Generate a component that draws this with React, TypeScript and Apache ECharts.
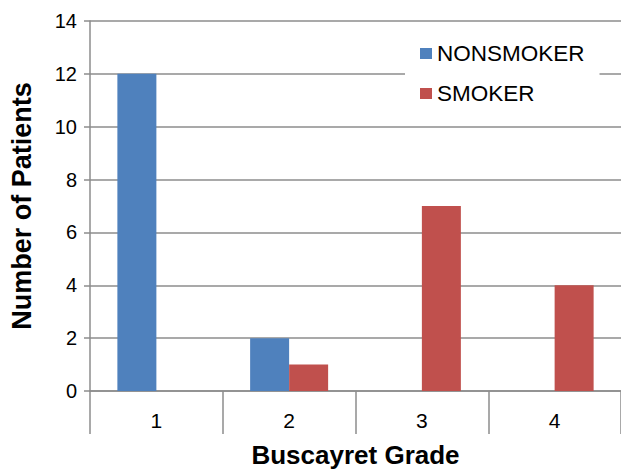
import React, { useEffect, useRef } from "react";
import * as echarts from "echarts";

const categories = ["1", "2", "3", "4"];
const nonsmoker = [12, 2, 0, 0];
const smoker = [0, 1, 7, 4];
const seriesNames = ["NONSMOKER", "SMOKER"];
const yMin = 0;
const yMax = 14;
const yInterval = 2;

export default function App() {
  const ref = useRef<HTMLDivElement>(null);
  useEffect(() => {
    if (!ref.current) return;
    const chart = echarts.init(ref.current, null, { renderer: "svg" });
    const gray = "#8c8c8c";
    const font = "Arial, 'Liberation Sans', sans-serif";
    chart.setOption({
      animation: false,
      backgroundColor: "#ffffff",
      textStyle: { fontFamily: font },
      grid: { left: 89, right: 0, top: 21, bottom: 75, containLabel: false },
      legend: {
        orient: "vertical",
        left: 405,
        top: 30,
        padding: [12, 15, 12, 15],
        backgroundColor: "#ffffff",
        icon: "rect",
        itemWidth: 12,
        itemHeight: 11,
        itemGap: 17,
        textStyle: { fontSize: 22.5, color: "#000000", fontFamily: font, lineHeight: 22 },
        data: seriesNames,
      },
      xAxis: {
        type: "category",
        data: categories,
        boundaryGap: true,
        name: "Buscayret Grade",
        nameLocation: "middle",
        nameGap: 51,
        nameTextStyle: { fontSize: 26, fontWeight: "bold", color: "#000000", fontFamily: font },
        axisLine: { show: true, lineStyle: { color: gray, width: 1.5 } },
        axisTick: { show: true, length: 43, lineStyle: { color: gray, width: 1.5 } },
        axisLabel: { fontSize: 21, color: "#000000", margin: 19, fontFamily: font },
        splitLine: { show: false },
      },
      yAxis: {
        type: "value",
        min: yMin,
        max: yMax,
        interval: yInterval,
        name: "Number of Patients",
        nameLocation: "middle",
        nameGap: 55,
        nameRotate: 90,
        nameTextStyle: { fontSize: 27, fontWeight: "bold", color: "#000000", fontFamily: font },
        axisLine: { show: true, lineStyle: { color: gray, width: 1.5 } },
        axisTick: { show: true, length: 6, lineStyle: { color: gray, width: 1.5 } },
        axisLabel: { fontSize: 20, color: "#000000", margin: 13, fontFamily: font },
        splitLine: { show: true, lineStyle: { color: gray, width: 1.5 } },
      },
      series: [
        {
          name: seriesNames[0],
          type: "bar",
          data: nonsmoker,
          barWidth: 39,
          barGap: "0%",
          itemStyle: { color: "#4f81bd" },
        },
        {
          name: seriesNames[1],
          type: "bar",
          data: smoker,
          barWidth: 39,
          barGap: "0%",
          itemStyle: { color: "#c0504d" },
        },
      ],
    });
    return () => chart.dispose();
  }, []);
  return (
    <div
      ref={ref}
      style={{ position: "fixed", left: 0, top: 0, width: 621, height: 473 }}
    />
  );
}
